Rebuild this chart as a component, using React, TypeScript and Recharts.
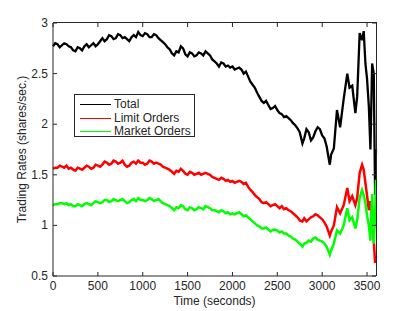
import { LineChart, Line, XAxis, YAxis } from 'recharts'

// time stamps (seconds) shared by all three series
const times = [
  0, 25, 50, 75, 100, 125, 150, 175, 200, 225, 250, 275, 300, 325, 350, 375, 400, 425, 450, 475,
  500, 525, 550, 575, 600, 625, 650, 675, 700, 725, 750, 775, 800, 825, 850, 875, 900, 925, 950, 975,
  1000, 1025, 1050, 1075, 1100, 1125, 1150, 1175, 1200, 1225, 1250, 1275, 1300, 1325, 1350, 1375, 1400, 1425, 1450, 1475,
  1500, 1525, 1550, 1575, 1600, 1625, 1650, 1675, 1700, 1725, 1750, 1775, 1800, 1825, 1850, 1875, 1900, 1925, 1950, 1975,
  2000, 2025, 2050, 2075, 2100, 2125, 2150, 2175, 2200, 2225, 2250, 2275, 2300, 2325, 2350, 2375, 2400, 2425, 2450, 2475,
  2500, 2525, 2550, 2575, 2600, 2625, 2650, 2675, 2700, 2725, 2750,
  2780, 2800, 2825, 2850, 2875, 2900, 2925, 2950, 2975, 3000, 3025, 3050, 3085, 3100, 3130, 3165, 3200,
  3240, 3280, 3305, 3335, 3370, 3390, 3418, 3445, 3463, 3482, 3500, 3520, 3538, 3557, 3575, 3590, 3600,
]

const total = [
  2.77, 2.8, 2.79, 2.76, 2.78, 2.8, 2.79, 2.77, 2.76, 2.73, 2.72, 2.76, 2.75, 2.73, 2.77, 2.79, 2.76, 2.78, 2.8, 2.77,
  2.79, 2.82, 2.85, 2.82, 2.84, 2.88, 2.87, 2.84, 2.85, 2.89, 2.88, 2.85, 2.86, 2.84, 2.82, 2.86, 2.88, 2.86, 2.91, 2.88,
  2.87, 2.9, 2.89, 2.86, 2.86, 2.89, 2.88, 2.85, 2.83, 2.81, 2.79, 2.76, 2.74, 2.7, 2.68, 2.72, 2.71, 2.77, 2.75, 2.69,
  2.67, 2.71, 2.7, 2.67, 2.68, 2.71, 2.7, 2.68, 2.72, 2.7, 2.68, 2.64, 2.62, 2.6, 2.57, 2.61, 2.6, 2.57, 2.58, 2.56,
  2.57, 2.54, 2.55, 2.56, 2.54, 2.5, 2.52, 2.47, 2.42, 2.39, 2.36, 2.31, 2.27, 2.23, 2.21, 2.23, 2.19, 2.15, 2.16, 2.18,
  2.14, 2.11, 2.1, 2.07, 2.08, 2.06, 2.04, 2.01, 1.99, 1.96, 1.92,
  1.81, 1.86, 1.95, 1.92, 1.84, 1.87, 1.93, 1.97, 1.95, 1.89, 1.86, 1.78, 1.6, 1.7, 1.76, 2.14, 1.97,
  2.25, 2.5, 2.36, 2.38, 2.11, 2.27, 2.9, 2.83, 2.92, 2.6, 2.45, 2.18, 1.75, 2.6, 2.5, 1.3, 1.75,
]

const limitOrders = [
  1.56, 1.57, 1.57, 1.59, 1.58, 1.57, 1.59, 1.56, 1.57, 1.55, 1.54, 1.57, 1.56, 1.55, 1.57, 1.59, 1.58, 1.56, 1.57, 1.6,
  1.59, 1.58, 1.6, 1.63, 1.62, 1.6, 1.61, 1.64, 1.63, 1.61, 1.62, 1.64, 1.6, 1.58, 1.59, 1.62, 1.63, 1.61, 1.64, 1.62,
  1.62, 1.6, 1.61, 1.64, 1.63, 1.61, 1.62, 1.61, 1.6, 1.58, 1.57, 1.56, 1.55, 1.53, 1.51, 1.54, 1.53, 1.56, 1.54, 1.51,
  1.5, 1.53, 1.52, 1.5, 1.51, 1.52, 1.5, 1.51, 1.52, 1.51, 1.5, 1.48, 1.47, 1.46, 1.45, 1.47, 1.46, 1.44, 1.45, 1.43,
  1.44, 1.42, 1.43, 1.44, 1.43, 1.41, 1.42, 1.38, 1.35, 1.33, 1.3, 1.28, 1.26, 1.23, 1.22, 1.23, 1.21, 1.19, 1.2, 1.21,
  1.19, 1.17, 1.19, 1.16, 1.17, 1.15, 1.14, 1.12, 1.1, 1.08, 1.05,
  1.04, 1.07, 1.04, 1.06, 1.08, 1.09, 1.11, 1.1, 1.08, 1.06, 1.03, 0.99, 0.9, 0.94, 1.0, 1.18, 1.12,
  1.2, 1.37, 1.24, 1.29, 1.2, 1.27, 1.52, 1.6, 1.55, 1.42, 1.3, 1.15, 1.24, 1.08, 0.85, 0.63, 0.7,
]

const marketOrders = [
  1.2, 1.21, 1.21, 1.22, 1.22, 1.21, 1.22, 1.2, 1.21, 1.19, 1.19, 1.21, 1.2, 1.19, 1.21, 1.22, 1.21, 1.2, 1.22, 1.24,
  1.23, 1.22, 1.23, 1.25, 1.25, 1.23, 1.24, 1.26, 1.25, 1.24, 1.25, 1.26, 1.24, 1.22, 1.23, 1.25, 1.26, 1.24, 1.27, 1.25,
  1.25, 1.24, 1.25, 1.27, 1.26, 1.24, 1.25, 1.26, 1.24, 1.22, 1.21, 1.2, 1.19, 1.17, 1.15, 1.18, 1.17, 1.2, 1.19, 1.16,
  1.15, 1.18, 1.17, 1.15, 1.16, 1.18, 1.17, 1.16, 1.19, 1.18, 1.17, 1.15, 1.15, 1.14, 1.13, 1.15, 1.14, 1.12, 1.13, 1.11,
  1.12, 1.11, 1.12, 1.13, 1.11, 1.09, 1.1, 1.08, 1.06, 1.04, 1.02, 1.0, 0.99, 0.97, 0.97, 0.98, 0.96, 0.94, 0.955, 0.96,
  0.95, 0.93, 0.94, 0.92, 0.92, 0.9, 0.89, 0.87, 0.86, 0.84, 0.82,
  0.79, 0.82, 0.83, 0.85, 0.84, 0.87, 0.88, 0.86, 0.85, 0.84, 0.82, 0.79, 0.71, 0.75, 0.82, 0.95, 0.92,
  1.0, 1.17, 1.05, 1.08, 0.97, 1.05, 1.27, 1.35, 1.3, 1.22, 1.1, 1.0, 0.85, 1.31, 0.82, 1.1, 1.45,
]

const xTicks = [0, 500, 1000, 1500, 2000, 2500, 3000, 3500]
const yTicks = [0.5, 1, 1.5, 2, 2.5, 3]

const seriesNames = ['Total', 'Limit Orders', 'Market Orders']
const seriesColors = ['#000000', '#ff0000', '#00ff00']

const AXIS = '#262626'
const FONT = '"Liberation Sans", Arial, Helvetica, sans-serif'

// chart box
const W = 415
const H = 311
const M_TOP = 23
const M_RIGHT = 39
const X_AXIS_H = 35
const Y_AXIS_W = 53
const PLOT_TOP = M_TOP
const PLOT_RIGHT = W - M_RIGHT
const PLOT_BOTTOM = H - X_AXIS_H
const TICK = 4

const data = times.map((t, i) => ({
  t,
  total: total[i],
  limit: limitOrders[i],
  market: marketOrders[i],
}))

// bottom tick + mirrored tick on the top edge (matlab style box)
const BottomTick = ({ x, y, payload }: any) => (
  <g>
    <rect x={x - 0.5} y={y - TICK} width={1} height={TICK} fill={AXIS} />
    <rect x={x - 0.5} y={PLOT_TOP} width={1} height={TICK} fill={AXIS} />
    <text x={x} y={y + 14} textAnchor="middle" fontSize={12} fill={AXIS} fontFamily={FONT}>
      {payload.value}
    </text>
  </g>
)

const LeftTick = ({ x, y, payload }: any) => (
  <g>
    <rect x={x} y={y - 0.5} width={TICK} height={1} fill={AXIS} />
    <rect x={PLOT_RIGHT - TICK} y={y - 0.5} width={TICK} height={1} fill={AXIS} />
    <text x={x - 5} y={y + 4} textAnchor="end" fontSize={12} fill={AXIS} fontFamily={FONT}>
      {payload.value}
    </text>
  </g>
)

// top and right edges of the axes box
const Frame = () => (
  <div
    style={{
      position: 'absolute',
      left: Y_AXIS_W,
      top: PLOT_TOP - 1,
      width: PLOT_RIGHT - Y_AXIS_W + 1,
      height: PLOT_BOTTOM - PLOT_TOP + 1,
      boxSizing: 'border-box',
      borderTop: `1px solid ${AXIS}`,
      borderRight: `1px solid ${AXIS}`,
      pointerEvents: 'none',
    }}
  />
)

const LegendBox = () => (
  <div
    style={{
      position: 'absolute',
      left: 74,
      top: 94,
      width: 121,
      height: 43,
      boxSizing: 'border-box',
      border: `1px solid ${AXIS}`,
      background: '#fff',
      paddingTop: 3,
      fontFamily: FONT,
      fontSize: 12,
      color: AXIS,
    }}
  >
    {seriesNames.map((n, i) => (
      <div key={n} style={{ display: 'flex', alignItems: 'center', height: 13.5, lineHeight: '13.5px' }}>
        <span style={{ display: 'block', marginLeft: 5, width: 31, height: 1, background: seriesColors[i] }} />
        <span style={{ marginLeft: 3, whiteSpace: 'nowrap' }}>{n}</span>
      </div>
    ))}
  </div>
)

export default function App() {
  return (
    <div style={{ position: 'absolute', left: 0, top: 0, width: W, height: H, background: '#fff' }}>
      <LineChart width={W} height={H} data={data} margin={{ top: M_TOP, right: M_RIGHT, bottom: 0, left: 0 }}>
        <XAxis
          dataKey="t"
          type="number"
          domain={[0, 3600]}
          ticks={xTicks}
          height={X_AXIS_H}
          tickSize={0}
          tickMargin={0}
          tickLine={false}
          axisLine={{ stroke: AXIS }}
          tick={<BottomTick />}
          interval={0}
          label={(p: any) => {
            const vb = p.viewBox
            return (
              <text x={vb.x + vb.width / 2} y={305} textAnchor="middle" fontSize={12} fill={AXIS} fontFamily={FONT}>
                Time (seconds)
              </text>
            )
          }}
        />
        <YAxis
          type="number"
          domain={[0.5, 3]}
          ticks={yTicks}
          width={Y_AXIS_W}
          tickSize={0}
          tickMargin={0}
          tickLine={false}
          axisLine={{ stroke: AXIS }}
          tick={<LeftTick />}
          interval={0}
          allowDataOverflow
          label={(p: any) => {
            const vb = p.viewBox
            const cy = vb.y + vb.height / 2
            return (
              <text
                x={22}
                y={cy}
                transform={`rotate(-90 22 ${cy})`}
                textAnchor="middle"
                dominantBaseline="central"
                fontSize={12}
                fill={AXIS}
                fontFamily={FONT}
              >
                Trading Rates (shares/sec.)
              </text>
            )
          }}
        />
        <Line type="linear" dataKey="total" name={seriesNames[0]} stroke={seriesColors[0]} strokeWidth={2.3} dot={false} isAnimationActive={false} />
        <Line type="linear" dataKey="limit" name={seriesNames[1]} stroke={seriesColors[1]} strokeWidth={2.5} dot={false} isAnimationActive={false} />
        <Line type="linear" dataKey="market" name={seriesNames[2]} stroke={seriesColors[2]} strokeWidth={2.5} dot={false} isAnimationActive={false} />
      </LineChart>
      <Frame />
      <LegendBox />
    </div>
  )
}
